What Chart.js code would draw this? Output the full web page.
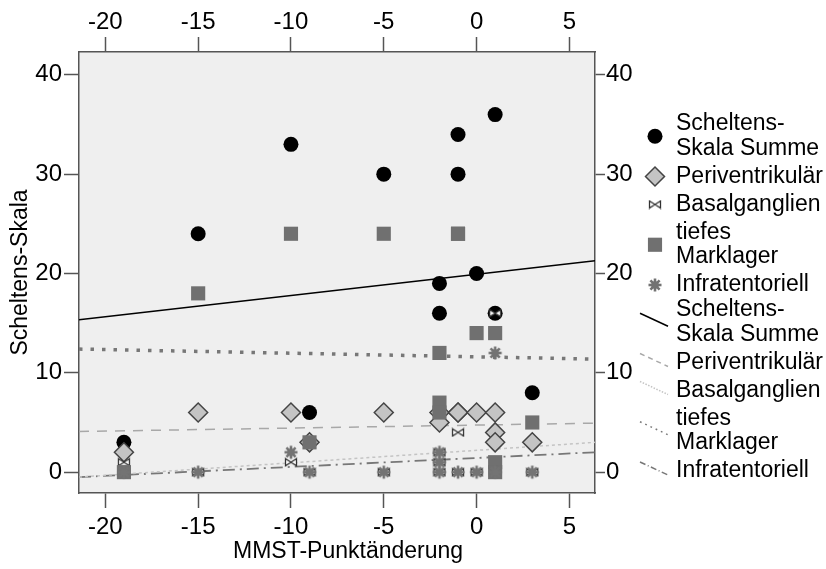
<!DOCTYPE html>
<html>
<head>
<meta charset="utf-8">
<script src="https://cdn.jsdelivr.net/npm/chart.js@4"></script>
<style>
  html, body { margin: 0; padding: 0; background: #fff; }
</style>
</head>
<body>
<canvas id="chart" width="826" height="569"></canvas>
<script>
// axis ranges
const xMin = -21.42, xMax = 6.38;
const yMin = -2.1, yMax = 42.3;

// points per series (x = MMST change, y = score)
const summeX = [-19, -15, -10, -9, -5, -2, -2, -2, -1, -1, 0, 1, 1, 3];
const summeY = [3, 24, 33, 6, 30, 19, 16, 6, 34, 30, 20, 36, 16, 8];
const periX = [-19, -15, -10, -9, -5, -2, -2, -1, -1, 0, 1, 1, 1, 3];
const periY = [2, 6, 6, 3, 6, 6, 5, 6, 6, 6, 6, 4, 3, 3];
const basalX = [-19, -10, -1, -2, -2, 1, -15, -9, -5, -2, -1, 0, 1, 3];
const basalY = [1, 1, 4, 1, 2, 16, 0, 0, 0, 0, 0, 0, 0, 0];
const markX = [-19, -15, -10, -9, -5, -2, -2, -2, -1, -1, 0, 1, 1, 1, 3];
const markY = [0, 18, 24, 3, 24, 12, 7, 6, 24, 24, 14, 14, 1, 0, 5];
const infraX = [-10, 1, -2, -2, -19, -15, -9, -5, -2, -1, 0, 1, 3];
const infraY = [2, 12, 2, 1, 0, 0, 0, 0, 0, 0, 0, 0, 0];

// fit lines, value at left and right edge of the plot
const fitX = [xMin, xMax];
const fitSumme = [15.34, 21.28];
const fitPeri = [4.09, 4.93];
const fitBasal = [-0.5, 3.0];
const fitMark = [12.39, 11.38];
const fitInfra = [-0.5, 2.0];

const pointNames = [['Scheltens-', 'Skala Summe'], ['Periventrikulär'], ['Basalganglien'], ['tiefes', 'Marklager'], ['Infratentoriell']];
const lineNames = [['Scheltens-', 'Skala Summe'], ['Periventrikulär'], ['Basalganglien'], ['tiefes', 'Marklager'], ['Infratentoriell']];

const FONT = '"Liberation Sans", Arial, sans-serif';

function toPoints(xs, ys) {
  return xs.map((x, i) => ({ x: x, y: ys[i] }));
}

function makeBowtie() {
  const c = document.createElement('canvas');
  c.width = 14; c.height = 10;
  const g = c.getContext('2d');
  g.fillStyle = '#fff';
  g.strokeStyle = '#333';
  g.lineWidth = 1.3;
  g.beginPath();
  g.moveTo(1.5, 1.5); g.lineTo(7, 5); g.lineTo(1.5, 8.5); g.closePath();
  g.moveTo(12.5, 1.5); g.lineTo(7, 5); g.lineTo(12.5, 8.5); g.closePath();
  g.fill(); g.stroke();
  return c;
}

function makeAsterisk() {
  const c = document.createElement('canvas');
  c.width = 16; c.height = 16;
  const g = c.getContext('2d');
  g.strokeStyle = '#737373';
  g.fillStyle = '#737373';
  g.lineWidth = 2.6;
  for (let a = 0; a < 4; a++) {
    const ang = a * Math.PI / 4;
    g.beginPath();
    g.moveTo(8 - Math.cos(ang) * 6.5, 8 - Math.sin(ang) * 6.5);
    g.lineTo(8 + Math.cos(ang) * 6.5, 8 + Math.sin(ang) * 6.5);
    g.stroke();
  }
  g.beginPath(); g.arc(8, 8, 3.8, 0, Math.PI * 2); g.fill();
  return c;
}

const pointSets = [
  { label: 'Scheltens-Skala Summe', data: toPoints(summeX, summeY), pointStyle: 'circle', pointRadius: 7.5,
    backgroundColor: '#000', borderColor: '#000', borderWidth: 0, order: 5 },
  { label: 'Periventrikulär', data: toPoints(periX, periY), pointStyle: 'rectRot', pointRadius: 9.5,
    backgroundColor: '#c4c4c4', borderColor: '#444', borderWidth: 1.5, order: 4 },
  { label: 'Basalganglien', data: toPoints(basalX, basalY), pointStyle: makeBowtie(), pointRadius: 6,
    backgroundColor: '#fff', borderColor: '#333', borderWidth: 1, order: 3 },
  { label: 'tiefes Marklager', data: toPoints(markX, markY), pointStyle: 'rect', pointRadius: 10,
    backgroundColor: '#707070', borderColor: '#707070', borderWidth: 0, order: 2 },
  { label: 'Infratentoriell', data: toPoints(infraX, infraY), pointStyle: makeAsterisk(), pointRadius: 6,
    backgroundColor: '#777', borderColor: '#777', borderWidth: 1, order: 1 }
];

function fitSet(label, ys, color, dash, width) {
  return { label: label, data: toPoints(fitX, ys), showLine: true, pointRadius: 0, borderColor: color,
    borderDash: dash, borderWidth: width, borderCapStyle: 'butt', fill: false, order: 10 };
}

const lineSets = [
  fitSet('Scheltens-Skala Summe', fitSumme, '#000', [], 1.5),
  fitSet('Periventrikulär', fitPeri, '#a8a8a8', [10, 8], 1.5),
  fitSet('Basalganglien', fitBasal, '#c4c4c4', [3, 3], 1.5),
  fitSet('tiefes Marklager', fitMark, '#777', [3.5, 8], 3.5),
  fitSet('Infratentoriell', fitInfra, '#777', [12, 5, 2, 5], 1.8)
];

function axis(position, min, max, step, size, tickLen, pad) {
  return {
    type: 'linear', position: position, min: min, max: max,
    ticks: { stepSize: step, includeBounds: false, color: '#000', padding: pad, maxRotation: 0,
      font: { family: FONT, size: 24 } },
    grid: { drawOnChartArea: false, tickLength: tickLen, tickColor: '#555', tickWidth: 1.5 },
    border: { display: true, color: '#555', width: 1.5 },
    afterFit: function (s) {
      if (position === 'left' || position === 'right') s.width = size; else s.height = size;
    }
  };
}

const plotBg = {
  id: 'plotBg',
  beforeDraw(chart) {
    const a = chart.chartArea, ctx = chart.ctx;
    ctx.save();
    ctx.fillStyle = '#efefef';
    ctx.fillRect(a.left, a.top, a.right - a.left, a.bottom - a.top);
    ctx.restore();
  }
};

const sideLegend = {
  id: 'sideLegend',
  afterDraw(chart) {
    const ctx = chart.ctx;
    const a = chart.chartArea;
    const lh = 24.5, gap = 28;
    ctx.save();
    ctx.font = '23px ' + FONT;
    ctx.textBaseline = 'middle';
    ctx.textAlign = 'left';

    // axis titles
    ctx.fillStyle = '#000';
    ctx.fillText('MMST-Punktänderung', 233, 552);
    ctx.save();
    ctx.translate(21, (a.top + a.bottom) / 2);
    ctx.rotate(-Math.PI / 2);
    ctx.textAlign = 'center';
    ctx.fillText('Scheltens-Skala', 0, 0);
    ctx.restore();

    let y = 124;
    pointSets.forEach((ds, i) => {
      const lines = pointNames[i];
      const cy = y + (lines.length - 1) * lh / 2;
      ctx.fillStyle = ds.backgroundColor;
      ctx.strokeStyle = ds.borderColor;
      ctx.lineWidth = ds.borderWidth;
      Chart.helpers.drawPoint(ctx, { pointStyle: ds.pointStyle, radius: ds.pointRadius, rotation: 0,
        borderWidth: ds.borderWidth }, 655, cy);
      ctx.fillStyle = '#000';
      lines.forEach((t, k) => ctx.fillText(t, 676, y + k * lh));
      y += (lines.length - 1) * lh + gap;
    });

    y = 310;
    lineSets.forEach((ds, i) => {
      const lines = lineNames[i];
      const cy = y + (lines.length - 1) * lh / 2;
      ctx.save();
      ctx.strokeStyle = ds.borderColor;
      ctx.lineWidth = Math.min(ds.borderWidth, 1.5);
      ctx.setLineDash(ds.borderDash.map(d => d * 0.5));
      ctx.beginPath();
      ctx.moveTo(640, cy - 9);
      ctx.lineTo(668, cy + 4);
      ctx.stroke();
      ctx.restore();
      ctx.fillStyle = '#000';
      lines.forEach((t, k) => ctx.fillText(t, 676, y + k * lh));
      y += (lines.length - 1) * lh + gap;
    });
    ctx.restore();
  }
};

new Chart(document.getElementById('chart'), {
  type: 'scatter',
  data: { datasets: lineSets.concat(pointSets) },
  options: {
    responsive: false,
    animation: false,
    events: [],
    layout: { padding: 0 },
    plugins: { legend: { display: false }, tooltip: { enabled: false } },
    scales: {
      x: axis('bottom', xMin, xMax, 5, 76, 15, 5),
      x2: Object.assign(axis('top', xMin, xMax, 5, 52, 15, 0), { axis: 'x' }),
      y: axis('left', yMin, yMax, 10, 79, 15, 2),
      y2: Object.assign(axis('right', yMin, yMax, 10, 231, 10, 1), { axis: 'y' })
    }
  },
  plugins: [plotBg, sideLegend]
});
</script>
</body>
</html>
